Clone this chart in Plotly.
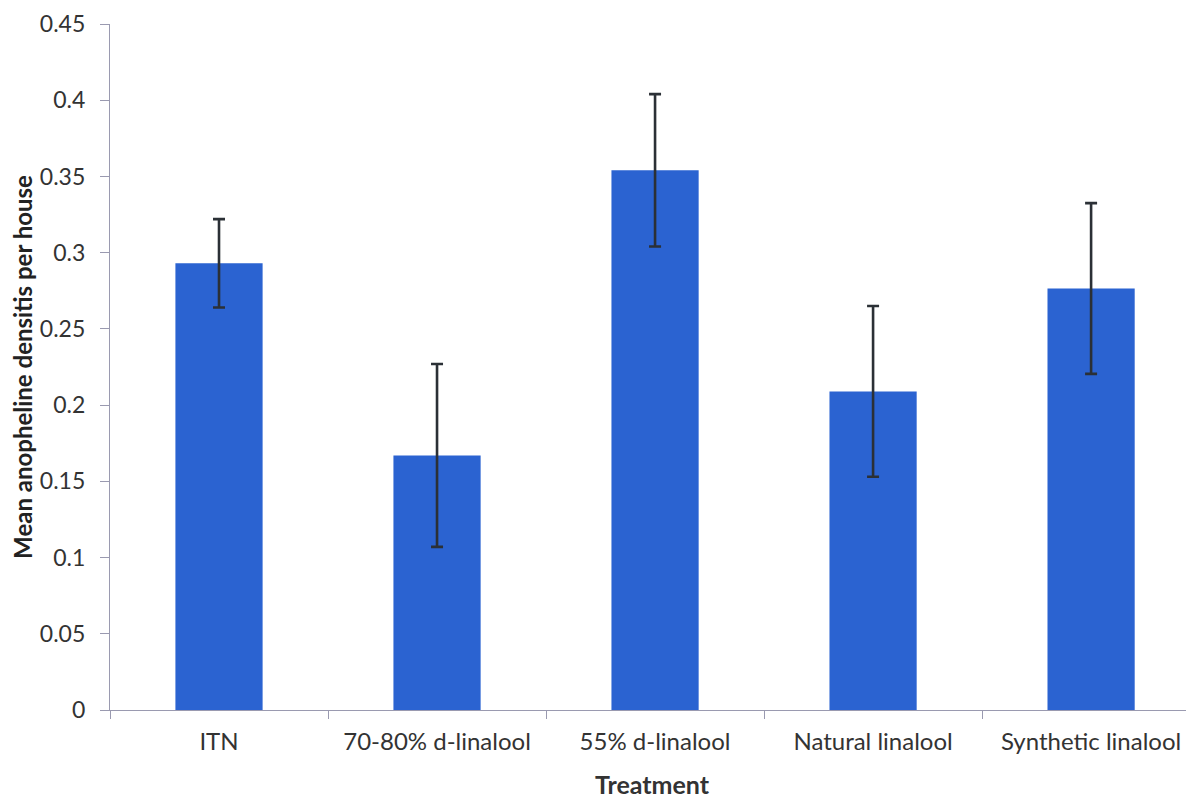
import plotly.graph_objects as go

categories = ["ITN", "70-80% d-linalool", "55% d-linalool", "Natural linalool", "Synthetic linalool"]
means = [0.293, 0.167, 0.354, 0.209, 0.2765]
errors = [0.029, 0.060, 0.050, 0.056, 0.056]
y_ticks = [0, 0.05, 0.1, 0.15, 0.2, 0.25, 0.3, 0.35, 0.4, 0.45]
y_tick_labels = ["0", "0.05", "0.1", "0.15", "0.2", "0.25", "0.3", "0.35", "0.4", "0.45"]

font_family = "Lato, 'Open Sans', sans-serif"

fig = go.Figure()
fig.add_trace(go.Bar(
    x=categories,
    y=means,
    marker=dict(color="#2B63D1", line=dict(width=0)),
    error_y=dict(type="data", array=errors, visible=True,
                 color="#2B3036", thickness=2.6, width=6),
))

fig.update_layout(
    width=1186, height=794,
    margin=dict(l=102, r=0, t=16, b=92),
    paper_bgcolor="white", plot_bgcolor="white",
    bargap=0.6,
    showlegend=False,
    font=dict(family=font_family, color="#333333", size=20),
    xaxis=dict(
        range=[-0.5, 4.472],
        automargin=False,
        showline=True, linecolor="#9A9AB0", linewidth=1.2,
        ticks="outside", tickson="boundaries", ticklen=8, tickcolor="#9A9AB0",
        tickfont=dict(size=24, color="#333333"),
        ticklabelstandoff=10,
        ticklabeloverflow="allow",
        title=dict(text="<b>Treatment</b>", font=dict(size=25, color="#333333"), standoff=22),
        showgrid=False, zeroline=False,
    ),
    yaxis=dict(
        range=[0, 0.45],
        automargin=False,
        tickvals=y_ticks, ticktext=y_tick_labels,
        showline=True, linecolor="#9A9AB0", linewidth=1.2,
        ticks="outside", ticklen=9, tickcolor="#9A9AB0",
        tickfont=dict(size=23, color="#333333"),
        ticklabelstandoff=10,
        ticklabeloverflow="allow",
        title=dict(text="<b>Mean anopheline densitis per house</b>",
                   font=dict(size=24, color="#222222"), standoff=4),
        showgrid=False, zeroline=False,
    ),
)

fig.write_html("out.html")
